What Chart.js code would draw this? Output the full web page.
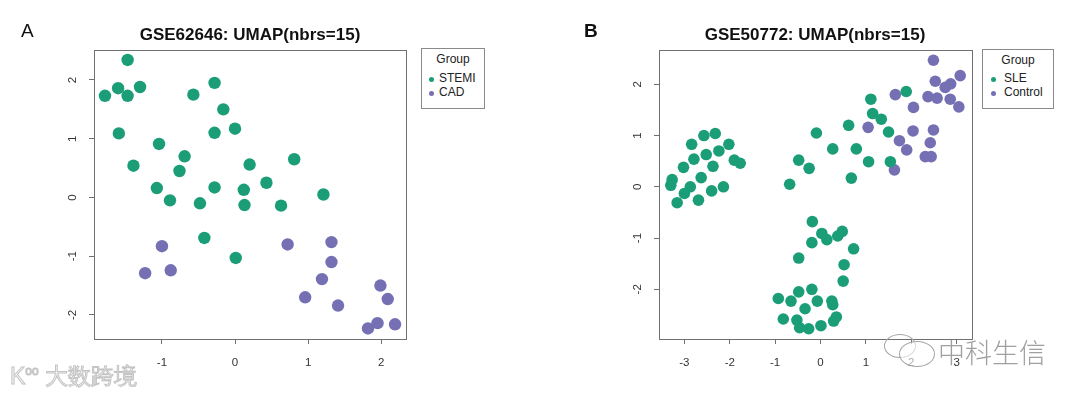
<!DOCTYPE html>
<html>
<head>
<meta charset="utf-8">
<script src="https://cdn.jsdelivr.net/npm/chart.js@4.4.1/dist/chart.umd.min.js"></script>
<style>
  html, body { margin: 0; padding: 0; background: #fff; }
  #wrap { position: relative; width: 1080px; height: 396px; overflow: hidden; font-family: "Liberation Sans", Arial, sans-serif; }
  canvas { position: absolute; top: 0; }
  .title { position: absolute; top: 25px; font-size: 17px; font-weight: bold; color: #111; text-align: center; width: 320px; }
  .letter { position: absolute; top: 20px; font-size: 19px; color: #111; }
  .legend { position: absolute; border: 1px solid #8a8a8a; background: #fff; font-size: 12px; color: #222; }
  .legend span { position: absolute; white-space: nowrap; }
  .legend .dot { width: 5px; height: 5px; border-radius: 50%; }
  .wm { position: absolute; white-space: nowrap; }
</style>
</head>
<body>
<div id="wrap">
  <canvas id="chartA" width="540" height="396" style="left:0"></canvas>
  <canvas id="chartB" width="540" height="396" style="left:540px"></canvas>

  <div class="letter" style="left:21px">A</div>
  <div class="letter" style="left:584px;font-weight:bold">B</div>
  <div class="title" style="left:90px">GSE62646: UMAP(nbrs=15)</div>
  <div class="title" style="left:655px">GSE50772: UMAP(nbrs=15)</div>

  <div class="legend" style="left:421px;top:48px;width:62px;height:59px">
    <span style="left:0;width:62px;text-align:center;top:3px">Group</span>
    <span class="dot" style="left:7px;top:28px;background:#1b9e77"></span>
    <span style="left:17px;top:22px">STEMI</span>
    <span class="dot" style="left:7px;top:42px;background:#7570b3"></span>
    <span style="left:17px;top:36px">CAD</span>
  </div>
  <div class="legend" style="left:982px;top:49px;width:70px;height:58px">
    <span style="left:0;width:70px;text-align:center;top:3px">Group</span>
    <span class="dot" style="left:8px;top:27px;background:#1b9e77"></span>
    <span style="left:21px;top:21px">SLE</span>
    <span class="dot" style="left:8px;top:41px;background:#7570b3"></span>
    <span style="left:21px;top:35px">Control</span>
  </div>

  <div class="wm" style="left:10px;top:361px;font-size:23px;color:#f6f6f6;-webkit-text-stroke:1px #c4c4c4">K<sup style="font-size:12px">oo</sup> 大数跨境</div>
  <div class="wm" style="left:884px;top:334px;width:30px;height:22px;border:1px solid #a5a5a5;border-radius:50%"></div>
  <div class="wm" style="left:899px;top:341px;width:34px;height:24px;border:1px solid #a5a5a5;border-radius:50%;background:rgba(255,255,255,0.6)"></div>
  <div class="wm" style="left:938px;top:332px;font-size:27px;font-weight:300;color:#a0a0a0;font-family:'Noto Sans CJK SC',sans-serif">中科生信</div>
</div>

<script>
// GSE62646 UMAP coordinates
var stemiX = [-1.78, -1.47, -1.60, -1.47, -1.30, -0.57, -0.28, -0.16, -0.28, 0.00, -1.59, -1.04, -0.69, -1.39,
              -0.76, 0.20, 0.81, -1.07, -0.28, 0.12, 0.43, 1.21, -0.89, -0.48, 0.13, 0.63, -0.42, 0.01];
var stemiY = [1.73, 2.34, 1.86, 1.73, 1.88, 1.75, 1.95, 1.50, 1.10, 1.17, 1.09, 0.91, 0.70, 0.54,
              0.45, 0.56, 0.65, 0.16, 0.17, 0.13, 0.25, 0.05, -0.05, -0.10, -0.13, -0.14, -0.69, -1.03];
var cadX = [-1.00, -1.23, -0.88, 0.72, 1.32, 1.32, 1.19, 0.96, 1.41, 1.99, 2.09, 1.95, 1.82, 2.19];
var cadY = [-0.83, -1.29, -1.24, -0.80, -0.76, -1.10, -1.39, -1.70, -1.84, -1.50, -1.73, -2.14, -2.23, -2.16];

// GSE50772 UMAP coordinates
var sleX = [-2.57, -2.32, -2.84, -2.02, -2.24, -2.52, -2.79, -1.90, -1.77, -3.02, -2.37, -2.63, -3.27, -3.30,
            -2.87, -2.14, -2.40, -3.00, -2.69, -3.16,
            -0.09, -0.48, -0.25, -0.68, 0.27, 0.62, 0.79, 0.68, 1.06, 1.11, 1.15, 1.34, 1.50, 1.54, 1.89,
            -0.18, 0.03, 0.14, 0.38, 0.48, -0.19, 0.73, -0.48, 0.52, 0.50, -0.19, -0.48, -0.93, -0.65,
            -0.07, 0.25, 0.27, -0.34, -0.82, -0.52, 0.35, 0.29, 0.01, -0.46, -0.26];
var sleY = [1.00, 1.04, 0.83, 0.83, 0.70, 0.63, 0.54, 0.52, 0.46, 0.38, 0.40, 0.18, 0.14, 0.03,
            0.00, 0.00, -0.08, -0.13, -0.26, -0.31,
            1.05, 0.52, 0.36, 0.05, 0.74, 1.20, 0.74, 0.17, 0.49, 1.71, 1.43, 1.32, 1.07, 0.49, 1.86,
            -0.68, -0.91, -1.03, -0.96, -0.87, -1.09, -1.21, -1.39, -1.52, -1.84, -2.00, -2.05, -2.18, -2.23,
            -2.23, -2.23, -2.30, -2.38, -2.58, -2.60, -2.54, -2.62, -2.71, -2.75, -2.77];
var controlX = [2.49, 2.53, 3.08, 2.75, 2.87, 1.65, 2.37, 2.57, 2.86, 3.05, 2.05, 1.05, 2.04, 2.49,
                1.74, 1.90, 2.42, 2.31, 2.44, 1.63];
var controlY = [2.47, 2.06, 2.17, 1.94, 2.01, 1.80, 1.76, 1.73, 1.71, 1.56, 1.55, 1.16, 1.09, 1.11,
                0.90, 0.72, 0.86, 0.59, 0.59, 0.33];

var ticksA_x = [-1, 0, 1, 2];
var ticksA_y = [-2, -1, 0, 1, 2];
var ticksB_x = [-3, -2, -1, 0, 1, 2, 3];
var ticksB_y = [-2, -1, 0, 1, 2];

var green = '#1b9e77';
var purple = '#7570b3';

function pts(xs, ys) {
    return xs.map(function (x, i) { return { x: x, y: ys[i] }; });
}

var boxPlugin = {
    id: 'box',
    afterDraw: function (chart) {
        var a = chart.chartArea, c = chart.ctx;
        c.save();
        c.strokeStyle = '#707070';
        c.lineWidth = 1;
        c.strokeRect(Math.round(a.left) + 0.5, Math.round(a.top) + 0.5,
            Math.round(a.right - a.left), Math.round(a.bottom - a.top));
        c.restore();
    }
};

function makeScale(min, max, ticks, vertical) {
    return {
        type: 'linear',
        min: min,
        max: max,
        afterBuildTicks: function (scale) {
            scale.ticks = ticks.map(function (v) { return { value: v }; });
        },
        afterFit: function (scale) {
            if (vertical) scale.width = 30; else scale.height = 30;
        },
        grid: { display: true, drawOnChartArea: false, drawTicks: true, tickLength: 5, color: '#707070' },
        border: { display: false },
        ticks: vertical ? {
            minRotation: 90, maxRotation: 90, crossAlign: 'center', padding: 11,
            color: '#333', font: { family: 'Liberation Sans', size: 11.5 }
        } : {
            maxRotation: 0, padding: 12,
            color: '#333', font: { family: 'Liberation Sans', size: 11.5 }
        }
    };
}

function makeChart(id, sets, xr, yr, tx, ty, radius, pad) {
    return new Chart(document.getElementById(id).getContext('2d'), {
        type: 'scatter',
        data: {
            datasets: sets.map(function (s) {
                return {
                    label: s.label,
                    data: s.data,
                    backgroundColor: s.color,
                    borderWidth: 0,
                    pointRadius: radius,
                    pointHoverRadius: radius
                };
            })
        },
        options: {
            responsive: false,
            animation: false,
            devicePixelRatio: 1,
            layout: { padding: pad },
            plugins: { legend: { display: false }, tooltip: { enabled: false } },
            scales: {
                x: makeScale(xr[0], xr[1], tx, false),
                y: makeScale(yr[0], yr[1], ty, true)
            }
        },
        plugins: [boxPlugin]
    });
}

makeChart('chartA', [
    { label: 'STEMI', data: pts(stemiX, stemiY), color: green },
    { label: 'CAD', data: pts(cadX, cadY), color: purple }
], [-1.93, 2.34], [-2.41, 2.51], ticksA_x, ticksA_y, 6.2,
    { left: 64, right: 134, top: 50, bottom: 27 });

makeChart('chartB', [
    { label: 'SLE', data: pts(sleX, sleY), color: green },
    { label: 'Control', data: pts(controlX, controlY), color: purple }
], [-3.56, 3.34], [-2.97, 2.67], ticksB_x, ticksB_y, 5.8,
    { left: 89, right: 108, top: 50, bottom: 27 });
</script>
</body>
</html>
